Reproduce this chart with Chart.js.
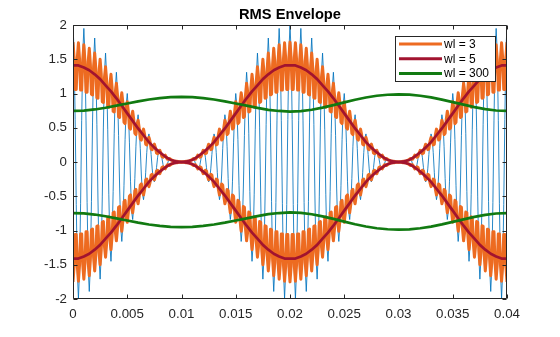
<!DOCTYPE html>
<html>
<head>
<meta charset="utf-8">
<script src="https://cdn.jsdelivr.net/npm/chart.js@4.4.1/dist/chart.umd.min.js"></script>
<style>
  html, body { margin: 0; padding: 0; background: #ffffff; }
  canvas { display: block; }
</style>
</head>
<body>
<canvas id="chart" width="560" height="337"></canvas>
<script>
// Sampling rate of the recorded signal (samples per second).
const sampleRate = 10000;

// AM test signal, one sample every 0.1 ms from 0 to 0.04 s.
const signal = [
  2.00, 1.62, 0.62, -0.62, -1.61, -1.99, -1.60, -0.61, 0.61, 1.59,
  1.95, 1.57, 0.60, -0.59, -1.54, -1.89, -1.52, -0.58, 0.57, 1.48,
  1.81, 1.45, 0.55, -0.54, -1.40, -1.71, -1.36, -0.51, 0.51, 1.30,
  1.59, 1.26, 0.47, -0.47, -1.20, -1.45, -1.15, -0.43, 0.42, 1.08,
  1.31, 1.03, 0.39, -0.38, -0.96, -1.16, -0.91, -0.34, 0.33, 0.83,
  1.00, 0.78, 0.29, -0.28, -0.71, -0.84, -0.66, -0.24, 0.23, 0.58,
  0.69, 0.53, 0.20, -0.19, -0.46, -0.55, -0.42, -0.15, 0.14, 0.35,
  0.41, 0.31, 0.11, -0.10, -0.25, -0.29, -0.22, -0.08, 0.07, 0.17,
  0.19, 0.14, 0.05, -0.04, -0.10, -0.11, -0.08, -0.03, 0.02, 0.05,
  0.05, 0.03, 0.01, -0.01, -0.01, -0.01, -0.01, 0.00, 0.00, 0.00,
  0.00,
  0.00, 0.00, 0.00, -0.01, -0.01, -0.01, -0.01, 0.01, 0.03, 0.05,
  0.05, 0.02, -0.03, -0.08, -0.11, -0.10, -0.04, 0.05, 0.14, 0.19,
  0.17, 0.07, -0.08, -0.22, -0.29, -0.25, -0.10, 0.11, 0.31, 0.41,
  0.35, 0.14, -0.15, -0.42, -0.55, -0.46, -0.19, 0.20, 0.53, 0.69,
  0.58, 0.23, -0.24, -0.66, -0.84, -0.71, -0.28, 0.29, 0.78, 1.00,
  0.83, 0.33, -0.34, -0.91, -1.16, -0.96, -0.38, 0.39, 1.03, 1.31,
  1.08, 0.42, -0.43, -1.15, -1.45, -1.20, -0.47, 0.47, 1.26, 1.59,
  1.30, 0.51, -0.51, -1.36, -1.71, -1.40, -0.54, 0.55, 1.45, 1.81,
  1.48, 0.57, -0.58, -1.52, -1.89, -1.54, -0.59, 0.60, 1.57, 1.95,
  1.59, 0.61, -0.61, -1.60, -1.99, -1.61, -0.62, 0.62, 1.62, 2.00,
  1.62, 0.62, -0.62, -1.61, -1.99, -1.60, -0.61, 0.61, 1.59,
  1.95, 1.57, 0.60, -0.59, -1.54, -1.89, -1.52, -0.58, 0.57, 1.48,
  1.81, 1.45, 0.55, -0.54, -1.40, -1.71, -1.36, -0.51, 0.51, 1.30,
  1.59, 1.26, 0.47, -0.47, -1.20, -1.45, -1.15, -0.43, 0.42, 1.08,
  1.31, 1.03, 0.39, -0.38, -0.96, -1.16, -0.91, -0.34, 0.33, 0.83,
  1.00, 0.78, 0.29, -0.28, -0.71, -0.84, -0.66, -0.24, 0.23, 0.58,
  0.69, 0.53, 0.20, -0.19, -0.46, -0.55, -0.42, -0.15, 0.14, 0.35,
  0.41, 0.31, 0.11, -0.10, -0.25, -0.29, -0.22, -0.08, 0.07, 0.17,
  0.19, 0.14, 0.05, -0.04, -0.10, -0.11, -0.08, -0.03, 0.02, 0.05,
  0.05, 0.03, 0.01, -0.01, -0.01, -0.01, -0.01, 0.00, 0.00, 0.00,
  0.00,
  0.00, 0.00, 0.00, -0.01, -0.01, -0.01, -0.01, 0.01, 0.03, 0.05,
  0.05, 0.02, -0.03, -0.08, -0.11, -0.10, -0.04, 0.05, 0.14, 0.19,
  0.17, 0.07, -0.08, -0.22, -0.29, -0.25, -0.10, 0.11, 0.31, 0.41,
  0.35, 0.14, -0.15, -0.42, -0.55, -0.46, -0.19, 0.20, 0.53, 0.69,
  0.58, 0.23, -0.24, -0.66, -0.84, -0.71, -0.28, 0.29, 0.78, 1.00,
  0.83, 0.33, -0.34, -0.91, -1.16, -0.96, -0.38, 0.39, 1.03, 1.31,
  1.08, 0.42, -0.43, -1.15, -1.45, -1.20, -0.47, 0.47, 1.26, 1.59,
  1.30, 0.51, -0.51, -1.36, -1.71, -1.40, -0.54, 0.55, 1.45, 1.81,
  1.48, 0.57, -0.58, -1.52, -1.89, -1.54, -0.59, 0.60, 1.57, 1.95,
  1.59, 0.61, -0.61, -1.60, -1.99, -1.61, -0.62, 0.62, 1.62, 2.00
];

// Moving RMS envelope, window of 3 samples (one value per sample).
const rmsWl3 = [
  1.75, 1.53, 1.06, 1.06, 1.52, 1.74, 1.51, 1.05, 1.05, 1.50,
  1.71, 1.48, 1.02, 1.02, 1.46, 1.66, 1.43, 0.99, 0.98, 1.40,
  1.59, 1.37, 0.94, 0.93, 1.32, 1.50, 1.29, 0.88, 0.87, 1.23,
  1.39, 1.19, 0.82, 0.80, 1.13, 1.28, 1.09, 0.74, 0.73, 1.02,
  1.15, 0.98, 0.66, 0.65, 0.91, 1.01, 0.86, 0.58, 0.56, 0.79,
  0.88, 0.74, 0.50, 0.48, 0.67, 0.74, 0.62, 0.42, 0.40, 0.55,
  0.61, 0.50, 0.34, 0.32, 0.44, 0.48, 0.40, 0.26, 0.25, 0.33,
  0.36, 0.30, 0.19, 0.18, 0.24, 0.26, 0.21, 0.13, 0.12, 0.16,
  0.17, 0.13, 0.08, 0.07, 0.09, 0.10, 0.07, 0.04, 0.04, 0.05,
  0.04, 0.03, 0.02, 0.01, 0.01, 0.01, 0.01, 0.00, 0.00, 0.00,
  0.00,
  0.00, 0.00, 0.00, 0.01, 0.01, 0.01, 0.01, 0.02, 0.03, 0.04,
  0.05, 0.04, 0.04, 0.07, 0.10, 0.09, 0.07, 0.08, 0.13, 0.17,
  0.16, 0.12, 0.13, 0.21, 0.26, 0.24, 0.18, 0.19, 0.30, 0.36,
  0.33, 0.25, 0.26, 0.40, 0.48, 0.44, 0.32, 0.34, 0.50, 0.61,
  0.55, 0.40, 0.42, 0.62, 0.74, 0.67, 0.48, 0.50, 0.74, 0.88,
  0.79, 0.56, 0.58, 0.86, 1.01, 0.91, 0.65, 0.66, 0.98, 1.15,
  1.02, 0.73, 0.74, 1.09, 1.28, 1.13, 0.80, 0.82, 1.19, 1.39,
  1.23, 0.87, 0.88, 1.29, 1.50, 1.32, 0.93, 0.94, 1.37, 1.59,
  1.40, 0.98, 0.99, 1.43, 1.66, 1.46, 1.02, 1.02, 1.48, 1.71,
  1.50, 1.05, 1.05, 1.51, 1.74, 1.52, 1.06, 1.06, 1.53, 1.75,
  1.53, 1.06, 1.06, 1.52, 1.74, 1.51, 1.05, 1.05, 1.50,
  1.71, 1.48, 1.02, 1.02, 1.46, 1.66, 1.43, 0.99, 0.98, 1.40,
  1.59, 1.37, 0.94, 0.93, 1.32, 1.50, 1.29, 0.88, 0.87, 1.23,
  1.39, 1.19, 0.82, 0.80, 1.13, 1.28, 1.09, 0.74, 0.73, 1.02,
  1.15, 0.98, 0.66, 0.65, 0.91, 1.01, 0.86, 0.58, 0.56, 0.79,
  0.88, 0.74, 0.50, 0.48, 0.67, 0.74, 0.62, 0.42, 0.40, 0.55,
  0.61, 0.50, 0.34, 0.32, 0.44, 0.48, 0.40, 0.26, 0.25, 0.33,
  0.36, 0.30, 0.19, 0.18, 0.24, 0.26, 0.21, 0.13, 0.12, 0.16,
  0.17, 0.13, 0.08, 0.07, 0.09, 0.10, 0.07, 0.04, 0.04, 0.05,
  0.04, 0.03, 0.02, 0.01, 0.01, 0.01, 0.01, 0.00, 0.00, 0.00,
  0.00,
  0.00, 0.00, 0.00, 0.01, 0.01, 0.01, 0.01, 0.02, 0.03, 0.04,
  0.05, 0.04, 0.04, 0.07, 0.10, 0.09, 0.07, 0.08, 0.13, 0.17,
  0.16, 0.12, 0.13, 0.21, 0.26, 0.24, 0.18, 0.19, 0.30, 0.36,
  0.33, 0.25, 0.26, 0.40, 0.48, 0.44, 0.32, 0.34, 0.50, 0.61,
  0.55, 0.40, 0.42, 0.62, 0.74, 0.67, 0.48, 0.50, 0.74, 0.88,
  0.79, 0.56, 0.58, 0.86, 1.01, 0.91, 0.65, 0.66, 0.98, 1.15,
  1.02, 0.73, 0.74, 1.09, 1.28, 1.13, 0.80, 0.82, 1.19, 1.39,
  1.23, 0.87, 0.88, 1.29, 1.50, 1.32, 0.93, 0.94, 1.37, 1.59,
  1.40, 0.98, 0.99, 1.43, 1.66, 1.46, 1.02, 1.02, 1.48, 1.71,
  1.50, 1.05, 1.05, 1.51, 1.74, 1.52, 1.06, 1.06, 1.53, 1.75
];

// Moving RMS envelope, window of 5 samples (smooth; listed every 5 samples).
const rmsWl5Stride = 5;
const rmsWl5 = [
  1.41, 1.41, 1.38, 1.34, 1.28, 1.21, 1.12, 1.03, 0.93, 0.82,
  0.71, 0.60, 0.49, 0.39, 0.29, 0.21, 0.14, 0.08, 0.03, 0.01,
  0.00,
  0.01, 0.03, 0.08, 0.14, 0.21, 0.29, 0.39, 0.49, 0.60, 0.71,
  0.82, 0.93, 1.03, 1.12, 1.21, 1.28, 1.34, 1.38, 1.41, 1.41,
  1.41, 1.38, 1.34, 1.28, 1.21, 1.12, 1.03, 0.93, 0.82, 0.71,
  0.60, 0.49, 0.39, 0.29, 0.21, 0.14, 0.08, 0.03, 0.01, 0.00,
  0.01, 0.03, 0.08, 0.14, 0.21, 0.29, 0.39, 0.49, 0.60, 0.71,
  0.82, 0.93, 1.03, 1.12, 1.21, 1.28, 1.34, 1.38, 1.41, 1.41
];

// Moving RMS envelope, window of 300 samples (listed every 10 samples).
const rmsWl300Stride = 10;
const rmsWl300 = [
  0.745, 0.751, 0.767, 0.792, 0.822, 0.854, 0.885, 0.912, 0.933, 0.946,
  0.950, 0.946, 0.933, 0.912, 0.885, 0.854, 0.822, 0.790, 0.762, 0.745,
  0.735, 0.742, 0.763, 0.794, 0.831, 0.871, 0.909, 0.941, 0.967, 0.982,
  0.988, 0.983, 0.967, 0.943, 0.911, 0.875, 0.837, 0.801, 0.771, 0.752,
  0.745
];

const seriesLabels = ['wl = 3', 'wl = 5', 'wl = 300'];
const seriesColors = ['#ED6B21', '#A2142F', '#117A11'];
const signalColor = '#0072BD';

const xTicks = [0, 0.005, 0.01, 0.015, 0.02, 0.025, 0.03, 0.035, 0.04];
const xTickLabels = ['0', '0.005', '0.01', '0.015', '0.02', '0.025', '0.03', '0.035', '0.04'];
const yTicks = [-2, -1.5, -1, -0.5, 0, 0.5, 1, 1.5, 2];
const yTickLabels = ['-2', '-1.5', '-1', '-0.5', '0', '0.5', '1', '1.5', '2'];

const titleText = 'RMS Envelope';
const axisColor = '#262626';
const fontFamily = '"Liberation Sans", Arial, Helvetica, sans-serif';

// Turn a value list into {x, y} points on the time axis.
function toPoints(values, stride, sign) {
  return values.map((v, i) => ({ x: (i * stride) / sampleRate, y: sign * v }));
}

function envelopeSets(values, stride, color, order, label, width) {
  const common = {
    borderColor: color,
    backgroundColor: color,
    borderWidth: width,
    borderJoinStyle: 'round',
    pointRadius: 0,
    tension: 0,
    fill: false,
    order: order
  };
  return [
    Object.assign({ label: label, data: toPoints(values, stride, 1) }, common),
    Object.assign({ label: label + ' (lower)', data: toPoints(values, stride, -1) }, common)
  ];
}

const datasets = [
  {
    label: 'signal',
    data: toPoints(signal, 1, 1),
    borderColor: signalColor,
    borderWidth: 0.85,
    pointRadius: 0,
    tension: 0,
    fill: false,
    order: 3
  },
  ...envelopeSets(rmsWl3, 1, seriesColors[0], 2, seriesLabels[0], 3),
  ...envelopeSets(rmsWl5, rmsWl5Stride, seriesColors[1], 1, seriesLabels[1], 2.7),
  ...envelopeSets(rmsWl300, rmsWl300Stride, seriesColors[2], 0, seriesLabels[2], 2.7)
];

// Axes box with inward tick marks on all four sides, plus the title.
const boxPlugin = {
  id: 'axesBox',
  afterDatasetsDraw(chart) {
    const { ctx, chartArea: a, scales } = chart;
    const tickLen = 4;
    ctx.save();
    ctx.strokeStyle = axisColor;
    ctx.lineWidth = 1;
    const L = Math.round(a.left) + 0.5, R = Math.round(a.right) - 0.5;
    const T = Math.round(a.top) + 0.5, B = Math.round(a.bottom) - 0.5;
    ctx.beginPath();
    ctx.rect(L, T, R - L, B - T);
    xTicks.forEach(v => {
      const px = Math.round(scales.x.getPixelForValue(v)) + 0.5;
      ctx.moveTo(px, B); ctx.lineTo(px, B - tickLen);
      ctx.moveTo(px, T); ctx.lineTo(px, T + tickLen);
    });
    yTicks.forEach(v => {
      const py = Math.round(scales.y.getPixelForValue(v)) + 0.5;
      ctx.moveTo(L, py); ctx.lineTo(L + tickLen, py);
      ctx.moveTo(R, py); ctx.lineTo(R - tickLen, py);
    });
    ctx.stroke();

    ctx.fillStyle = '#000000';
    ctx.font = 'bold 14.7px ' + fontFamily;
    ctx.textAlign = 'center';
    ctx.textBaseline = 'alphabetic';
    ctx.fillText(titleText, (a.left + a.right) / 2, 18.5);
    ctx.restore();
  }
};

// Boxed legend in the upper right corner of the axes.
const legendPlugin = {
  id: 'boxLegend',
  afterDraw(chart) {
    const { ctx, chartArea: a } = chart;
    const boxW = 100, boxH = 45;
    const x0 = Math.round(a.right) - 11.5 - boxW;
    const y0 = Math.round(a.top) + 11.5;
    ctx.save();
    ctx.fillStyle = '#ffffff';
    ctx.fillRect(x0, y0, boxW, boxH);
    ctx.strokeStyle = axisColor;
    ctx.lineWidth = 1;
    ctx.strokeRect(x0, y0, boxW, boxH);
    ctx.font = '12px ' + fontFamily;
    ctx.textAlign = 'left';
    ctx.textBaseline = 'middle';
    seriesLabels.forEach((lab, i) => {
      const cy = y0 + 7.5 + i * 14.8;
      ctx.strokeStyle = seriesColors[i];
      ctx.lineWidth = 3;
      ctx.beginPath();
      ctx.moveTo(x0 + 3.5, cy);
      ctx.lineTo(x0 + 46.5, cy);
      ctx.stroke();
      ctx.fillStyle = '#000000';
      ctx.fillText(lab, x0 + 48.5, cy + 0.5);
    });
    ctx.restore();
  }
};

new Chart(document.getElementById('chart'), {
  type: 'line',
  data: { datasets },
  options: {
    responsive: false,
    animation: false,
    devicePixelRatio: 1,
    events: [],
    layout: { padding: { top: 25, right: 53, left: 0, bottom: 0 } },
    plugins: {
      legend: { display: false },
      tooltip: { enabled: false },
      title: { display: false }
    },
    scales: {
      x: {
        type: 'linear',
        min: 0,
        max: 0.04,
        afterBuildTicks: s => { s.ticks = xTicks.map(v => ({ value: v })); },
        afterFit: s => { s.height = 38; },
        grid: { display: false, drawTicks: false },
        border: { display: false },
        ticks: {
          padding: 7,
          maxRotation: 0,
          autoSkip: false,
          color: axisColor,
          font: { family: fontFamily, size: 13.3 },
          callback: (v, i) => xTickLabels[i]
        }
      },
      y: {
        type: 'linear',
        min: -2,
        max: 2,
        afterBuildTicks: s => { s.ticks = yTicks.map(v => ({ value: v })); },
        afterFit: s => { s.width = 73; },
        grid: { display: false, drawTicks: false },
        border: { display: false },
        ticks: {
          padding: 6,
          autoSkip: false,
          color: axisColor,
          font: { family: fontFamily, size: 13.3 },
          callback: (v, i) => yTickLabels[i]
        }
      }
    }
  },
  plugins: [boxPlugin, legendPlugin]
});
</script>
</body>
</html>
